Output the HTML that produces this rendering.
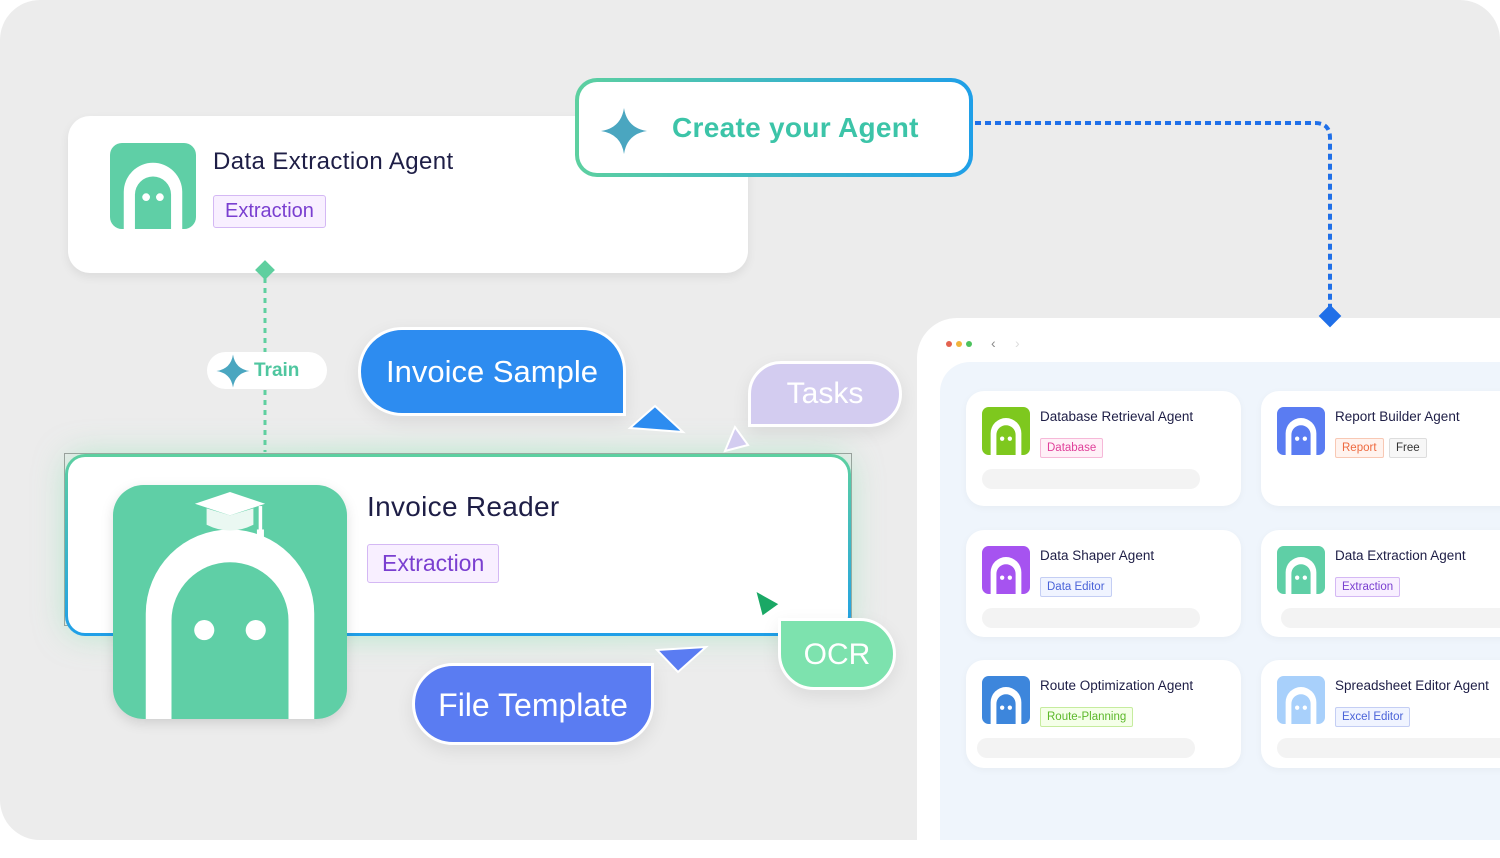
<!DOCTYPE html>
<html><head><meta charset="utf-8"><style>
*{box-sizing:border-box;margin:0;padding:0}
body{width:1500px;height:840px;background:#fff;font-family:"Liberation Sans",sans-serif;position:relative;overflow:hidden}
.bg{position:absolute;left:0;top:0;width:1500px;height:840px;background:#ececec;border-radius:40px}
.abs{position:absolute}
.card{position:absolute;background:#fff}
.tag{position:absolute;border:1.5px solid;border-radius:3px;font-size:20px;padding:0 11px;line-height:31px}
.bub{position:absolute;color:#fff;border:3px solid #fff;text-align:center;box-shadow:0 6px 18px rgba(0,0,0,.08)}
.sc{position:absolute;background:#fff;border-radius:18px;box-shadow:0 2px 8px rgba(0,0,0,.04)}
.sc .t{position:absolute;left:74px;top:18px;font-size:13.5px;color:#1e1e46}
.sc .g{position:absolute;top:47px;font-size:11.5px;line-height:18px;padding:0 6px;border:1px solid;border-radius:2px}
.sc .bar{position:absolute;left:16px;top:78px;width:218px;height:20px;border-radius:10px;background:#f3f3f3}
.sc svg{position:absolute;left:16px;top:16px}
</style></head><body>
<div class="bg"></div>

<div class="abs" style="left:40px;top:430px;width:840px;height:230px;background:radial-gradient(ellipse at center,rgba(180,240,205,.6),rgba(236,236,236,0) 70%)"></div>

<!-- Top card -->
<div class="card" style="left:68px;top:116px;width:680px;height:157px;border-radius:22px;box-shadow:0 4px 10px rgba(0,0,0,.07)"></div>
<svg class="abs" style="left:110px;top:143px" width="86" height="86" viewBox="0 0 100 100"><rect width="100" height="100" rx="14" fill="#5fcfa6"/><path d="M16 100V57A34 34 0 0 1 84 57V100Z" fill="#fff"/><path d="M29 100V60A21 21 0 0 1 71 60V100Z" fill="#5fcfa6"/><circle cx="42" cy="63" r="4.5" fill="#fff"/><circle cx="58" cy="63" r="4.5" fill="#fff"/></svg>
<div class="abs" style="left:213px;top:148px;font-size:24px;letter-spacing:.4px;color:#1e1e46">Data Extraction Agent</div>
<div class="tag" style="left:213px;top:195px;color:#7a3fd0;border-color:#d4b8f4;background:#f8efff">Extraction</div>

<!-- Create your agent -->
<div class="abs" style="left:575px;top:78px;width:398px;height:99px;border-radius:22px;background:linear-gradient(90deg,#5dd0a0,#1f9fe8);padding:4px">
<div style="width:100%;height:100%;background:#fff;border-radius:18px;position:relative">
<svg class="abs" style="left:20px;top:24px" width="50" height="50" viewBox="0 0 50 50"><path d="M25 2 Q28 22 48 25 Q28 28 25 48 Q22 28 2 25 Q22 22 25 2Z" fill="#4aa6c0"/></svg>
<div class="abs" style="left:93px;top:30px;font-size:28px;font-weight:bold;color:#3cc4a8;letter-spacing:.3px">Create your Agent</div>
</div></div>

<!-- Train -->
<div class="abs" style="left:207px;top:352px;width:120px;height:37px;border-radius:19px;background:#fff"></div>
<svg class="abs" style="left:215px;top:353px" width="36" height="36" viewBox="0 0 50 50"><path d="M25 2 Q28 22 48 25 Q28 28 25 48 Q22 28 2 25 Q22 22 25 2Z" fill="#4aa6c0"/></svg>
<div class="abs" style="left:254px;top:360px;font-size:19px;font-weight:bold;color:#4fc69f">Train</div>

<!-- Right panel -->
<div class="abs" style="left:917px;top:318px;width:600px;height:540px;background:#fff;border-radius:40px 0 0 0"></div>
<div class="abs" style="left:940px;top:362px;width:570px;height:478px;background:#eff5fc;border-radius:30px 0 0 0"></div>
<div class="abs" style="left:946px;top:341px;width:6px;height:6px;border-radius:3px;background:#e3624f"></div>
<div class="abs" style="left:956px;top:341px;width:6px;height:6px;border-radius:3px;background:#f1b43c"></div>
<div class="abs" style="left:966px;top:341px;width:6px;height:6px;border-radius:3px;background:#4cc25d"></div>
<div class="abs" style="left:991px;top:335px;font-size:14px;color:#888">&#8249;</div>
<div class="abs" style="left:1015px;top:335px;font-size:14px;color:#ddd">&#8250;</div>

<div class="sc" style="left:966px;top:391px;width:275px;height:115px">
<svg width="48" height="48" viewBox="0 0 100 100"><rect width="100" height="100" rx="14" fill="#7ec81e"/><path d="M18 100V55A32 32 0 0 1 82 55V100Z" fill="#fff"/><path d="M30 100V58A20 20 0 0 1 70 58V100Z" fill="#7ec81e"/><circle cx="42" cy="66" r="4.5" fill="#fff"/><circle cx="58" cy="66" r="4.5" fill="#fff"/></svg>
<div class="t">Database Retrieval Agent</div><div class="g" style="left:74px;color:#e0409a;border-color:#f6b8d8;background:#fff0f7">Database</div><div class="bar"></div></div>

<div class="sc" style="left:1261px;top:391px;width:260px;height:115px">
<svg width="48" height="48" viewBox="0 0 100 100"><rect width="100" height="100" rx="14" fill="#5a7cf2"/><path d="M18 100V55A32 32 0 0 1 82 55V100Z" fill="#fff"/><path d="M30 100V58A20 20 0 0 1 70 58V100Z" fill="#5a7cf2"/><circle cx="42" cy="66" r="4.5" fill="#fff"/><circle cx="58" cy="66" r="4.5" fill="#fff"/></svg>
<div class="t">Report Builder Agent</div><div class="g" style="left:74px;color:#ee6a40;border-color:#f8c8b4;background:#fff3ee">Report</div><div class="g" style="left:128px;color:#333;border-color:#ddd;background:#f7f7f7">Free</div></div>

<div class="sc" style="left:966px;top:530px;width:275px;height:107px">
<svg width="48" height="48" viewBox="0 0 100 100"><rect width="100" height="100" rx="14" fill="#a653f0"/><path d="M18 100V55A32 32 0 0 1 82 55V100Z" fill="#fff"/><path d="M30 100V58A20 20 0 0 1 70 58V100Z" fill="#a653f0"/><circle cx="42" cy="66" r="4.5" fill="#fff"/><circle cx="58" cy="66" r="4.5" fill="#fff"/></svg>
<div class="t">Data Shaper Agent</div><div class="g" style="left:74px;color:#4a63d8;border-color:#c4cef4;background:#f0f4ff">Data Editor</div><div class="bar"></div></div>

<div class="sc" style="left:1261px;top:530px;width:260px;height:107px">
<svg width="48" height="48" viewBox="0 0 100 100"><rect width="100" height="100" rx="14" fill="#5fcfa6"/><path d="M18 100V55A32 32 0 0 1 82 55V100Z" fill="#fff"/><path d="M30 100V58A20 20 0 0 1 70 58V100Z" fill="#5fcfa6"/><circle cx="42" cy="66" r="4.5" fill="#fff"/><circle cx="58" cy="66" r="4.5" fill="#fff"/></svg>
<div class="t">Data Extraction Agent</div><div class="g" style="left:74px;color:#7a3fd0;border-color:#d4b8f4;background:#f8efff">Extraction</div><div class="bar" style="left:20px;width:240px"></div></div>

<div class="sc" style="left:966px;top:660px;width:275px;height:108px">
<svg width="48" height="48" viewBox="0 0 100 100"><rect width="100" height="100" rx="14" fill="#3d86dc"/><path d="M18 100V55A32 32 0 0 1 82 55V100Z" fill="#fff"/><path d="M30 100V58A20 20 0 0 1 70 58V100Z" fill="#3d86dc"/><circle cx="42" cy="66" r="4.5" fill="#fff"/><circle cx="58" cy="66" r="4.5" fill="#fff"/></svg>
<div class="t">Route Optimization Agent</div><div class="g" style="left:74px;color:#5cb82a;border-color:#c6ec9e;background:#f5ffe9">Route-Planning</div><div class="bar" style="left:11px"></div></div>

<div class="sc" style="left:1261px;top:660px;width:260px;height:108px">
<svg width="48" height="48" viewBox="0 0 100 100"><rect width="100" height="100" rx="14" fill="#a8d0fb"/><path d="M18 100V55A32 32 0 0 1 82 55V100Z" fill="#fff"/><path d="M30 100V58A20 20 0 0 1 70 58V100Z" fill="#a8d0fb"/><circle cx="42" cy="66" r="4.5" fill="#fff"/><circle cx="58" cy="66" r="4.5" fill="#fff"/></svg>
<div class="t">Spreadsheet Editor Agent</div><div class="g" style="left:74px;color:#4a63d8;border-color:#c4cef4;background:#f0f4ff">Excel Editor</div><div class="bar" style="width:240px"></div></div>

<!-- Invoice Reader -->
<div class="abs" style="left:64px;top:453px;width:788px;height:173px;border:1px solid #9a9a9a"></div>
<div class="abs" style="left:65px;top:454px;width:786px;height:182px;border-radius:20px;background:linear-gradient(180deg,#5dd0a0,#1f9fe8);padding:3px;box-shadow:0 0 30px rgba(140,230,180,.5)">
<div style="width:100%;height:100%;background:#fff;border-radius:17px"></div></div>
<div class="abs" style="left:367px;top:491px;font-size:28px;letter-spacing:.3px;color:#1e1e46">Invoice Reader</div>
<div class="tag" style="left:367px;top:544px;font-size:23px;line-height:37px;padding:0 14px;color:#7a3fd0;border-color:#d4b8f4;background:#f8efff">Extraction</div>
<svg class="abs" style="left:113px;top:485px;filter:drop-shadow(0 4px 6px rgba(0,0,0,.12))" width="234" height="234" viewBox="0 0 100 100"><rect width="100" height="100" rx="13" fill="#5fcfa6"/><path d="M14 100V55A36 36 0 0 1 86 55V100Z" fill="#fff"/><path d="M25 100V58A25 25 0 0 1 75 58V100Z" fill="#5fcfa6"/><circle cx="39" cy="62" r="4.3" fill="#fff"/><circle cx="61" cy="62" r="4.3" fill="#fff"/><path d="M35 8 L50 3 L65 8 L50 13Z" fill="#fff"/><path d="M40 10 V17 Q50 22 60 17 V10 L50 13Z" fill="#eaf8f2"/><path d="M63 9 V20" stroke="#fff" stroke-width="1.5"/><rect x="61.5" y="19" width="3" height="4" fill="#fff"/></svg>

<!-- bubbles -->
<div class="bub" style="left:358px;top:327px;width:268px;height:89px;line-height:83px;font-size:31px;background:#2d8cf0;border-radius:44px 44px 0 44px">Invoice Sample</div>
<div class="bub" style="left:748px;top:361px;width:154px;height:66px;line-height:60px;font-size:30px;background:#d3ccf0;border-radius:33px 33px 33px 0">Tasks</div>
<div class="bub" style="left:778px;top:618px;width:118px;height:72px;line-height:68px;font-size:30px;background:#7de2ae;border-radius:0 36px 36px 36px">OCR</div>
<div class="bub" style="left:412px;top:663px;width:242px;height:82px;line-height:78px;font-size:32px;background:#5a7cf2;border-radius:41px 0 41px 41px">File Template</div>

<!-- connectors & arrows on top -->
<svg class="abs" style="left:0;top:0" width="1500" height="840">
<path d="M975 123 H1315 Q1330 123 1330 138 V308" fill="none" stroke="#1f6fe8" stroke-width="4" stroke-dasharray="6 4"/>
<rect x="1322" y="308" width="16" height="16" fill="#1f6fe8" transform="rotate(45 1330 316)"/>
<path d="M265 278 V352 M265 390 V452" fill="none" stroke="#5fcf9f" stroke-width="3" stroke-dasharray="5 5"/>
<rect x="258" y="263" width="14" height="14" fill="#5fcf9f" transform="rotate(45 265 270)"/>
<path d="M630 428 L655 406 L683 432 Z" fill="#2d8cf0" stroke="#fff" stroke-width="2"/>
<path d="M725 451 L735 427 L748 445 Z" fill="#d3ccf0" stroke="#fff" stroke-width="2"/>
<path d="M755 590 L780 604 L762 617 Z" fill="#1aa865" stroke="#fff" stroke-width="2"/>
<path d="M657 650 L706 647 L678 672 Z" fill="#5a7cf2" stroke="#fff" stroke-width="2"/>
</svg>
</body></html>
